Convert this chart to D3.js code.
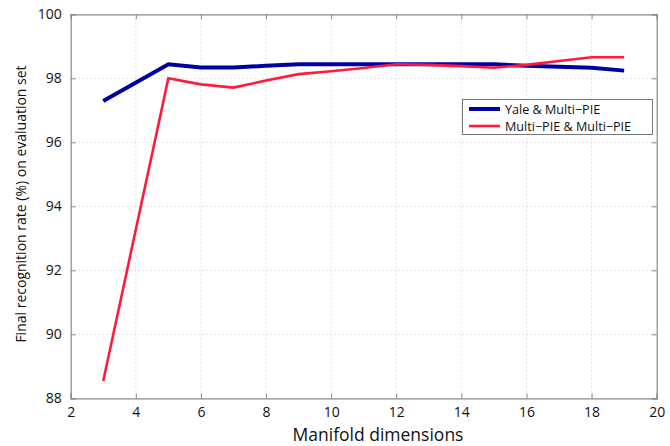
<!DOCTYPE html>
<html><head><meta charset="utf-8">
<script src="https://cdn.jsdelivr.net/npm/d3@7"></script>
<style>body{margin:0;background:#fff}svg{display:block}text{font-family:"Open Sans",sans-serif}</style>
</head><body><svg id="c" width="670" height="446"></svg>
<script>
const dims = [3,5,6,7,8,9,10,11,12,13,14,15,16,17,18,19];
const yaleMultiPIE = [97.29,98.44,98.34,98.34,98.39,98.44,98.44,98.44,98.44,98.44,98.44,98.44,98.39,98.36,98.33,98.24];
const multiPIEMultiPIE = [88.54,98.0,97.81,97.71,97.93,98.13,98.22,98.32,98.44,98.42,98.38,98.33,98.42,98.54,98.66,98.66];
const xTicks = [2,4,6,8,10,12,14,16,18,20];
const yTicks = [88,90,92,94,96,98,100];
const seriesNames = ["Yale & Multi\u2212PIE","Multi\u2212PIE & Multi\u2212PIE"];
const seriesColors = ["#0000a0","#ff1a3c"];

const svg = d3.select("#c");
const L=70.7,R=656.7,T=14.3,B=398.3;
const x = d3.scaleLinear().domain([2,20]).range([L,R]);
const y = d3.scaleLinear().domain([88,100]).range([B,T]);

// grid
const g = svg.append("g");
g.selectAll(".gx").data(xTicks.slice(1,-1)).enter().append("line")
 .attr("x1",d=>x(d)).attr("x2",d=>x(d)).attr("y1",T).attr("y2",B)
 .attr("stroke","#c8c8c8").attr("stroke-width",1).attr("stroke-dasharray","1,3");
g.selectAll(".gy").data(yTicks.slice(1,-1)).enter().append("line")
 .attr("y1",d=>y(d)).attr("y2",d=>y(d)).attr("x1",L).attr("x2",R)
 .attr("stroke","#c8c8c8").attr("stroke-width",1).attr("stroke-dasharray","1,3");

// axes
const axB = d3.axisBottom(x).tickValues(xTicks).tickSize(-5).tickPadding(9).tickFormat(d3.format("d"));
const axL = d3.axisLeft(y).tickValues(yTicks).tickSize(-5).tickPadding(9).tickFormat(d3.format("d"));
const axT = d3.axisTop(x).tickValues(xTicks).tickSize(-5).tickFormat("");
const axR = d3.axisRight(y).tickValues(yTicks).tickSize(-5).tickFormat("");
function style(sel){sel.select(".domain").attr("stroke","#8a8a8a").attr("stroke-width",1.2);
 sel.selectAll(".tick line").attr("stroke","#8a8a8a");
 sel.selectAll("text").attr("fill","#111").style("font-size","14px").style("font-family","'Open Sans',sans-serif");}
svg.append("g").attr("transform",`translate(0,${B})`).call(axB).call(style);
svg.append("g").attr("transform",`translate(${L},0)`).call(axL).call(style);
svg.append("g").attr("transform",`translate(0,${T})`).call(axT).call(style);
svg.append("g").attr("transform",`translate(${R},0)`).call(axR).call(style);

// lines
const line = d3.line().x(d=>x(d[0])).y(d=>y(d[1]));
const data = [dims.map((d,i)=>[d,yaleMultiPIE[i]]), dims.map((d,i)=>[d,multiPIEMultiPIE[i]])];
const widths=[4,2.6];
data.forEach((s,i)=>{
 svg.append("path").datum(s).attr("d",line).attr("fill","none")
  .attr("stroke",seriesColors[i]).attr("stroke-width",widths[i]).attr("stroke-linejoin","miter");
});

// legend
const lg = svg.append("g");
lg.append("rect").attr("x",462.5).attr("y",99.5).attr("width",190).attr("height",35)
 .attr("fill","#fff").attr("stroke","#777").attr("stroke-width",1);
seriesNames.forEach((n,i)=>{
 const yy=109+i*17;
 lg.append("line").attr("x1",469).attr("x2",500).attr("y1",yy).attr("y2",yy)
  .attr("stroke",seriesColors[i]).attr("stroke-width",widths[i]);
 lg.append("text").attr("x",505).attr("y",yy+4.5).text(n).style("font-size","12.6px").attr("fill","#111");
});

// labels
svg.append("text").attr("x",378).attr("y",441).attr("text-anchor","middle")
 .style("font-size","17.5px").attr("fill","#111").text("Manifold dimensions");
svg.append("text").attr("transform","translate(26,204) rotate(-90)").attr("text-anchor","middle")
 .style("font-size","14px").attr("fill","#111").text("Final recognition rate (%) on evaluation set");
</script></body></html>
